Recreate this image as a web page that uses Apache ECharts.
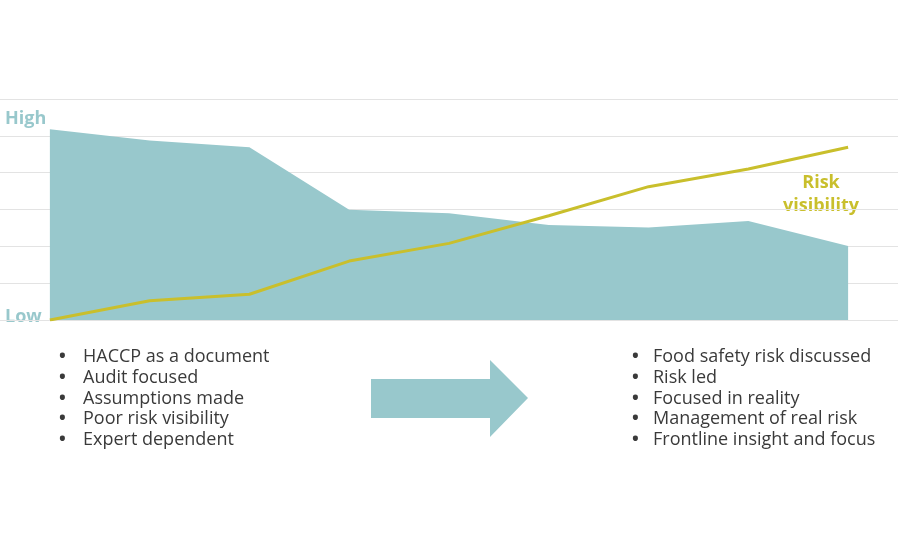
<!DOCTYPE html>
<html><head><meta charset="utf-8">
<script src="https://cdn.jsdelivr.net/npm/echarts@6/dist/echarts.min.js"></script>
<style>html,body{margin:0;padding:0;background:#fff}#c{width:900px;height:550px}</style>
</head><body><div id="c"></div>
<script>
var stages = ['1','2','3','4','5','6','7','8','9'];
var riskLevel = [5.18, 4.87, 4.69, 2.99, 2.90, 2.58, 2.51, 2.69, 2.01];
var riskVisibility = [0, 0.52, 0.70, 1.60, 2.08, 2.83, 3.62, 4.10, 4.69];
var yTicks = [0, 1, 2, 3, 4, 5, 6];
var leftList = ['HACCP as a document','Audit focused','Assumptions made','Poor risk visibility','Expert dependent'];
var rightList = ['Food safety risk discussed','Risk led','Focused in reality','Management of real risk','Frontline insight and focus'];

var TEAL = '#98c8cc', YEL = '#c9bf2c', TXT = '#3a3a3a';
var FONT = '"Open Sans", "Noto Sans", sans-serif';

function listGraphics(items, bx, tx, y0, dy) {
  var g = [];
  items.forEach(function (t, i) {
    g.push({type:'text', x:bx, y:y0 + i*dy, style:{text:'•', font:'bold 18px ' + FONT, fill:TXT, verticalAlign:'middle'}});
    g.push({type:'text', x:tx, y:y0 + i*dy, style:{text:t, font:'18px ' + FONT, fill:TXT, verticalAlign:'middle'}});
  });
  return g;
}

var chart = echarts.init(document.getElementById('c'), null, {renderer:'canvas'});
var graphics = [
  {type:'text', x:5, y:119, style:{text:'High', font:'bold 18px ' + FONT, fill:TEAL, verticalAlign:'middle'}},
  {type:'text', x:5, y:317, style:{text:'Low', font:'bold 18px ' + FONT, fill:TEAL, verticalAlign:'middle'}},
  {type:'text', x:821, y:183, style:{text:'Risk', font:'bold 18px ' + FONT, fill:YEL, align:'center', verticalAlign:'middle'}},
  {type:'text', x:821, y:206, style:{text:'visibility', font:'bold 18px ' + FONT, fill:YEL, align:'center', verticalAlign:'middle'}},
  {type:'polygon', shape:{points:[[371,379],[490,379],[490,360],[528,398],[490,437],[490,418],[371,418]]}, style:{fill:TEAL}}
];
graphics = graphics.concat(listGraphics(leftList, 59, 83, 357, 20.7));
graphics = graphics.concat(listGraphics(rightList, 632, 653, 357, 20.7));

chart.setOption({
  animation:false,
  grid:{left:0, right:2, top:99, bottom:230},
  xAxis:{type:'category', data:stages, boundaryGap:true, show:false},
  yAxis:{type:'value', min:yTicks[0], max:yTicks[yTicks.length-1], interval:1,
    axisLabel:{show:false}, axisLine:{show:false}, axisTick:{show:false},
    splitLine:{show:true, lineStyle:{color:'#e3e3e3', width:1}}},
  series:[
    {type:'line', data:riskLevel, symbol:'none', lineStyle:{width:0}, areaStyle:{color:TEAL, opacity:1}, z:2},
    {type:'line', data:riskVisibility, symbol:'none', lineStyle:{width:3, color:YEL}, z:3}
  ],
  graphic:graphics
});
</script></body></html>
